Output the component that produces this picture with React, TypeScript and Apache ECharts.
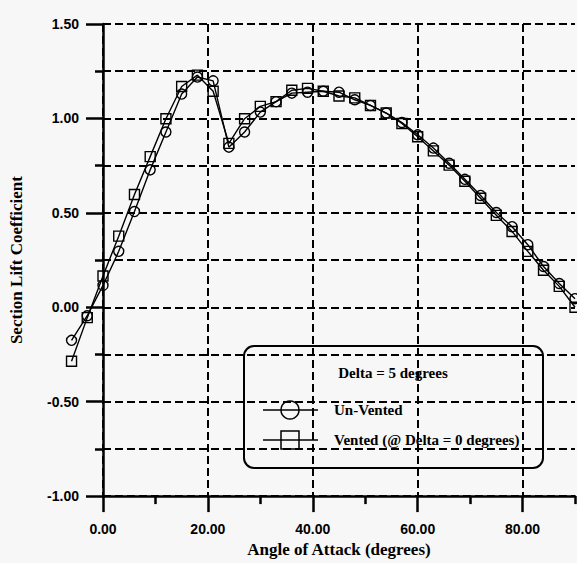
import React, { useEffect, useRef } from "react";
import * as echarts from "echarts";

// Angle of attack (degrees) at which the section lift was measured
const angles = [
  -6, -3, 0, 3, 6, 9, 12, 15, 18, 21, 24, 27, 30, 33, 36, 39, 42, 45, 48, 51,
  54, 57, 60, 63, 66, 69, 72, 75, 78, 81, 84, 87, 90,
];

// Section lift coefficient, flap not vented
const unVented = [
  -0.17, -0.04, 0.12, 0.3, 0.51, 0.73, 0.93, 1.13, 1.22, 1.2, 0.85, 0.93, 1.035,
  1.09, 1.135, 1.14, 1.145, 1.14, 1.1, 1.07, 1.03, 0.98, 0.915, 0.845, 0.765,
  0.68, 0.595, 0.505, 0.43, 0.335, 0.22, 0.13, 0.05,
];

// Section lift coefficient, vented at Delta = 0 degrees
const vented = [
  -0.28, -0.05, 0.17, 0.38, 0.6, 0.8, 1.0, 1.17, 1.23, 1.145, 0.87, 1.0, 1.065,
  1.09, 1.15, 1.16, 1.145, 1.12, 1.11, 1.07, 1.03, 0.975, 0.905, 0.83, 0.755,
  0.67, 0.58, 0.49, 0.405, 0.3, 0.2, 0.115, 0.005,
];

const xMajorTicks = [0, 20, 40, 60, 80];
const xMinorTicks = [10, 30, 50, 70, 90];

const legendTitle = "Delta = 5 degrees";
const seriesNames = ["Un-Vented", "Vented (@ Delta = 0 degrees)"];

const BG = "#f7f7f7";
const SANS = "'Liberation Sans', Arial, sans-serif";
const SERIF = "'Liberation Serif', 'Times New Roman', serif";
const dashed = { color: "#000", width: 2, type: [8, 4] as number[] };

// Frame geometry: the visible axes run from 0 to 90 degrees; the curves
// start a few degrees below zero, so they live in a wider, axis-less grid
// that shares the same scale.
const PLOT_LEFT = 103;
const PLOT_RIGHT_PX = 575;
const X_MAX = 90;
const CURVE_X_MIN = -8;
const PX_PER_DEG = (PLOT_RIGHT_PX - PLOT_LEFT) / X_MAX;
const CURVE_LEFT = PLOT_RIGHT_PX - (X_MAX - CURVE_X_MIN) * PX_PER_DEG;
const TOP = 24;
const BOTTOM = 65.4;

export default function App() {
  const ref = useRef<HTMLDivElement>(null);

  useEffect(() => {
    if (!ref.current) return;
    const chart = echarts.init(ref.current, null, { renderer: "svg" });

    const lineSeries = (name: string, values: number[], symbol: string) => ({
      name,
      type: "line",
      xAxisIndex: 2,
      yAxisIndex: 1,
      data: angles.map((a, i) => [a, values[i]]),
      symbol,
      symbolSize: 10,
      showAllSymbol: true,
      lineStyle: { color: "#000", width: 1.4 },
      itemStyle: { color: "rgba(0,0,0,0)", borderColor: "#000", borderWidth: 1.4 },
      emphasis: { disabled: true },
      z: 5,
    });

    const hiddenAxis = {
      type: "value",
      axisLine: { show: false },
      axisTick: { show: false },
      axisLabel: { show: false },
      splitLine: { show: false },
    };

    const textStyle = (size: number) => ({
      fontFamily: SERIF,
      fontSize: size,
      fontWeight: "bold",
      color: "#000",
    });

    chart.setOption({
      animation: false,
      backgroundColor: BG,
      grid: [
        { left: PLOT_LEFT, right: 577 - PLOT_RIGHT_PX, top: TOP, bottom: BOTTOM },
        { left: CURVE_LEFT, right: 577 - PLOT_RIGHT_PX, top: TOP, bottom: BOTTOM },
      ],
      xAxis: [
        {
          type: "value",
          gridIndex: 0,
          min: 0,
          max: X_MAX,
          interval: 10,
          position: "bottom",
          name: "Angle of Attack (degrees)",
          nameLocation: "middle",
          nameGap: 42,
          nameTextStyle: textStyle(17),
          axisLine: { show: true, onZero: false, lineStyle: { color: "#000", width: 2.5 } },
          axisTick: {
            show: true,
            customValues: xMajorTicks,
            length: 16,
            lineStyle: { color: "#000", width: 2.5 },
          },
          axisLabel: {
            customValues: xMajorTicks,
            margin: 26,
            fontFamily: SANS,
            fontSize: 14,
            fontWeight: "bold",
            color: "#000",
            formatter: (v: number) => v.toFixed(2),
          },
          splitLine: { show: true, lineStyle: dashed },
        },
        {
          type: "value",
          gridIndex: 0,
          min: 0,
          max: X_MAX,
          interval: 10,
          position: "bottom",
          axisLine: { show: false, onZero: false },
          axisTick: {
            show: true,
            customValues: xMinorTicks,
            length: 8,
            lineStyle: { color: "#000", width: 2.5 },
          },
          axisLabel: { show: false },
          splitLine: { show: false },
        },
        { ...hiddenAxis, gridIndex: 1, min: CURVE_X_MIN, max: X_MAX },
      ],
      yAxis: [
        {
          type: "value",
          gridIndex: 0,
          min: -1,
          max: 1.5,
          interval: 0.5,
          name: "Section Lift Coefficient",
          nameLocation: "middle",
          nameGap: 78,
          nameTextStyle: textStyle(17),
          axisLine: { show: true, onZero: false, lineStyle: { color: "#000", width: 2.5 } },
          axisTick: { show: true, length: 17, lineStyle: { color: "#000", width: 2.5 } },
          minorTick: {
            show: true,
            splitNumber: 2,
            length: 8,
            lineStyle: { color: "#000", width: 2.5 },
          },
          axisLabel: {
            margin: 24,
            fontFamily: SANS,
            fontSize: 14,
            fontWeight: "bold",
            color: "#000",
            formatter: (v: number) => v.toFixed(2),
          },
          splitLine: { show: true, lineStyle: dashed },
          minorSplitLine: { show: true, lineStyle: dashed },
        },
        { ...hiddenAxis, gridIndex: 1, min: -1, max: 1.5 },
      ],
      series: [
        lineSeries(seriesNames[0], unVented, "circle"),
        lineSeries(seriesNames[1], vented, "rect"),
      ],
      graphic: [
        {
          type: "group",
          x: 244,
          y: 346,
          z: 100,
          children: [
            {
              type: "rect",
              shape: { x: 0, y: 0, width: 299, height: 122, r: 10 },
              style: { fill: BG, stroke: "#000", lineWidth: 2 },
            },
            {
              type: "text",
              x: 149,
              y: 27,
              style: {
                text: legendTitle,
                font: `bold 15px ${SERIF}`,
                fill: "#000",
                align: "center",
                verticalAlign: "middle",
              },
            },
            {
              type: "line",
              shape: { x1: 19, y1: 64, x2: 74, y2: 64 },
              style: { stroke: "#000", lineWidth: 1.5 },
            },
            {
              type: "circle",
              shape: { cx: 46, cy: 64, r: 9 },
              style: { fill: "rgba(0,0,0,0)", stroke: "#000", lineWidth: 1.5 },
            },
            {
              type: "text",
              x: 90,
              y: 64,
              style: {
                text: seriesNames[0],
                font: `bold 15px ${SERIF}`,
                fill: "#000",
                verticalAlign: "middle",
              },
            },
            {
              type: "line",
              shape: { x1: 19, y1: 94, x2: 74, y2: 94 },
              style: { stroke: "#000", lineWidth: 1.5 },
            },
            {
              type: "rect",
              shape: { x: 37, y: 85, width: 18, height: 18 },
              style: { fill: "rgba(0,0,0,0)", stroke: "#000", lineWidth: 1.5 },
            },
            {
              type: "text",
              x: 90,
              y: 94,
              style: {
                text: seriesNames[1],
                font: `bold 15px ${SERIF}`,
                fill: "#000",
                verticalAlign: "middle",
              },
            },
          ],
        },
      ],
    });

    return () => chart.dispose();
  }, []);

  return (
    <div
      ref={ref}
      style={{ position: "fixed", left: 0, top: 0, width: 577, height: 563, background: BG }}
    />
  );
}
